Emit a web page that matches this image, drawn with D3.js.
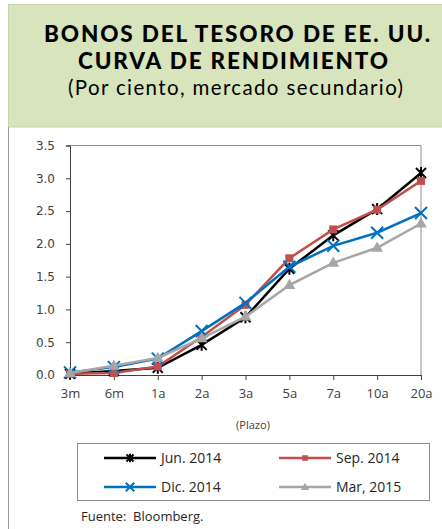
<!DOCTYPE html>
<html>
<head>
<meta charset="utf-8">
<script src="https://cdn.jsdelivr.net/npm/d3@7"></script>
<style>
body { margin: 0; background: #fff; }
</style>
</head>
<body>
<div id="container"></div>
<script>
// plazos (eje x)
var plazos = ["3m", "6m", "1a", "2a", "3a", "5a", "7a", "10a", "20a"];
var yTicks = [0, 0.5, 1, 1.5, 2, 2.5, 3, 3.5];

// rendimientos por fecha
var jun2014 = [0.02, 0.06, 0.11, 0.46, 0.88, 1.62, 2.13, 2.53, 3.08];
var sep2014 = [0.02, 0.03, 0.13, 0.58, 1.07, 1.78, 2.22, 2.52, 2.96];
var dic2014 = [0.04, 0.12, 0.25, 0.67, 1.10, 1.65, 1.97, 2.17, 2.47];
var mar2015 = [0.03, 0.14, 0.26, 0.56, 0.89, 1.37, 1.71, 1.94, 2.31];

var series = [
    { name: "Jun. 2014", values: jun2014, color: "#000000", marker: "star" },
    { name: "Sep. 2014", values: sep2014, color: "#c0504d", marker: "square" },
    { name: "Dic. 2014", values: dic2014, color: "#0070c0", marker: "cross" },
    { name: "Mar, 2015", values: mar2015, color: "#a6a6a6", marker: "triangle" }
];

var W = 442, H = 529;
var svg = d3.select("#container").append("svg")
    .attr("width", W)
    .attr("height", H);

// recuadro de encabezado
svg.append("rect")
    .attr("x", 8.5).attr("y", 4.5)
    .attr("width", W).attr("height", 122.5)
    .attr("fill", "#d8e4bc")
    .attr("stroke", "#c8d4b0");

svg.append("line")
    .attr("x1", 8.5).attr("x2", 8.5)
    .attr("y1", 127).attr("y2", H)
    .attr("stroke", "#9a9a9a");

var titleFont = "Lato, 'Open Sans', sans-serif";
svg.append("text")
    .attr("x", 44).attr("y", 42)
    .attr("textLength", 386)
    .attr("lengthAdjust", "spacing")
    .style("font-family", titleFont)
    .style("font-weight", "900")
    .style("font-size", "22.5px")
    .text("BONOS DEL TESORO DE EE. UU.");
svg.append("text")
    .attr("x", 78).attr("y", 69)
    .attr("textLength", 310)
    .attr("lengthAdjust", "spacing")
    .style("font-family", titleFont)
    .style("font-weight", "900")
    .style("font-size", "22.5px")
    .text("CURVA DE RENDIMIENTO");
svg.append("text")
    .attr("x", 68).attr("y", 95)
    .attr("textLength", 335)
    .attr("lengthAdjust", "spacing")
    .style("font-family", titleFont)
    .style("font-size", "20.5px")
    .text("(Por ciento, mercado secundario)");

// escalas
var x = d3.scalePoint().domain(plazos).range([70, 421]);
var y = d3.scaleLinear().domain([0, 3.5]).range([375, 145.5]);

// borde del area de trazado
svg.append("path")
    .attr("d", "M" + x("3m") + "," + y(3.5) + "H" + x("20a") + "V" + y(0))
    .attr("fill", "none")
    .attr("stroke", "#8c8c8c")
    .attr("stroke-width", 1);

var yAxis = svg.append("g")
    .attr("transform", "translate(70,0)")
    .call(d3.axisLeft(y).tickValues(yTicks).tickSize(4).tickPadding(11)
        .tickFormat(d3.format(".1f")));
yAxis.select(".domain").attr("stroke", "#404040");
yAxis.selectAll(".tick line").attr("stroke", "#404040");
yAxis.selectAll("text")
    .style("font-family", "'DejaVu Sans', sans-serif")
    .style("font-size", "12px")
    .attr("fill", "#404040");

var xAxis = svg.append("g")
    .attr("transform", "translate(0,375)")
    .call(d3.axisBottom(x).tickSize(5).tickPadding(9));
xAxis.select(".domain").attr("stroke", "#404040");
xAxis.selectAll(".tick line").attr("stroke", "#404040");
xAxis.selectAll("text")
    .style("font-family", "'Open Sans', sans-serif")
    .style("font-size", "13px")
    .attr("fill", "#404040");

svg.append("text")
    .attr("x", 253).attr("y", 429)
    .attr("text-anchor", "middle")
    .style("font-family", "'Open Sans', sans-serif")
    .style("font-size", "11px")
    .attr("fill", "#404040")
    .text("(Plazo)");

function drawMarker(g, type, cx, cy, color, k)
{
    k = k || 1;
    if (type == "star") {
        var a = 5 * k, b = 6 * k;
        g.append("path")
            .attr("d", "M" + (cx - a) + "," + (cy - a) + "L" + (cx + a) + "," + (cy + a)
                + "M" + (cx - a) + "," + (cy + a) + "L" + (cx + a) + "," + (cy - a)
                + "M" + cx + "," + (cy - b) + "L" + cx + "," + (cy + b))
            .attr("stroke", color).attr("stroke-width", 2).attr("fill", "none");
    } else if (type == "square") {
        g.append("rect")
            .attr("x", cx - 4 * k).attr("y", cy - 4 * k)
            .attr("width", 8 * k).attr("height", 8 * k)
            .attr("fill", color);
    } else if (type == "cross") {
        var c = 6 * k;
        g.append("path")
            .attr("d", "M" + (cx - c) + "," + (cy - c) + "L" + (cx + c) + "," + (cy + c)
                + "M" + (cx - c) + "," + (cy + c) + "L" + (cx + c) + "," + (cy - c))
            .attr("stroke", color).attr("stroke-width", 2).attr("fill", "none");
    } else {
        g.append("path")
            .attr("d", d3.symbol().type(d3.symbolTriangle).size(60 * k * k)())
            .attr("transform", "translate(" + cx + "," + (cy + 0.5) + ")")
            .attr("fill", color);
    }
}

var line = d3.line()
    .x(function (d, i) { return x(plazos[i]); })
    .y(function (d) { return y(d); });

series.forEach(function (s)
{
    var g = svg.append("g");
    g.append("path")
        .attr("d", line(s.values))
        .attr("fill", "none")
        .attr("stroke", s.color)
        .attr("stroke-width", 2.5);
    s.values.forEach(function (v, i)
    {
        drawMarker(g, s.marker, x(plazos[i]), y(v), s.color);
    });
});

// leyenda
svg.append("rect")
    .attr("x", 77.5).attr("y", 443.5)
    .attr("width", 352).attr("height", 57)
    .attr("fill", "none")
    .attr("stroke", "#8c8c8c");

var legendPos = [[104, 458], [279, 458], [104, 487], [279, 487]];
series.forEach(function (s, i)
{
    var lx = legendPos[i][0], ly = legendPos[i][1];
    var g = svg.append("g");
    g.append("line")
        .attr("x1", lx).attr("x2", lx + 52)
        .attr("y1", ly).attr("y2", ly)
        .attr("stroke", s.color).attr("stroke-width", 2.5);
    drawMarker(g, s.marker, lx + 26, ly, s.color, 0.7);
    g.append("text")
        .attr("x", lx + 57).attr("y", ly + 5)
        .style("font-family", "'Open Sans', sans-serif")
        .style("font-size", "14px")
        .attr("fill", "#262626")
        .text(s.name);
});

svg.append("text")
    .attr("x", 81).attr("y", 521)
    .style("font-family", "'Open Sans', sans-serif")
    .style("font-size", "13px")
    .style("white-space", "pre")
    .attr("fill", "#262626")
    .text("Fuente:  Bloomberg.");
</script>
</body>
</html>
